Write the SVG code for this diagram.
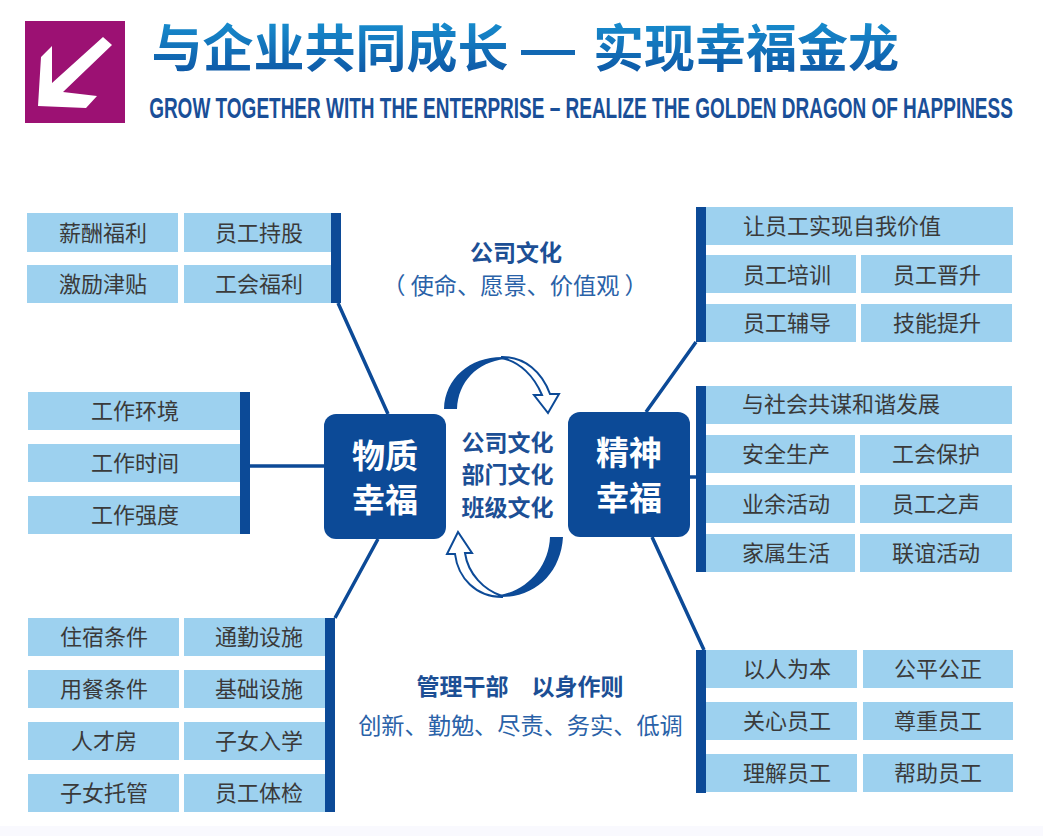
<svg xmlns="http://www.w3.org/2000/svg" width="1043" height="836" viewBox="0 0 1043 836">
<style>
text{font-family:"Noto Sans CJK SC","Noto Sans",sans-serif;text-anchor:middle}
.b{fill:#9dd1ef}
.bar,.hub{fill:#0c4a97}
.t{font-size:22px;fill:#3a3a3a}
.hubt{font-size:33px;font-weight:700;fill:#fff}
.c{font-size:23px;font-weight:700;fill:#1c4f95}
.s{font-size:23.2px;fill:#2a62a8}
.h{font-size:23px;font-weight:700;fill:#1c4f95}
.title{font-size:51px;font-weight:700;fill:url(#g)}
.line{stroke:#0c4a97;stroke-width:3.5;fill:none}
.arc{fill:#0c4a97}
.head{fill:#fff;stroke:#0c4a97;stroke-width:2}
</style>
<defs>
<linearGradient id="g" x1="0" y1="0" x2="0" y2="1"><stop offset="0" stop-color="#1a9ad8"/><stop offset="1" stop-color="#0c4f9f"/></linearGradient>
</defs>
<rect width="1043" height="836" fill="#fff"/>
<rect y="826" width="1043" height="10" fill="#f9f9fe"/>
<g id="header">
<rect x="25" y="21" width="100" height="102" fill="#9c1173"/>
<polygon points="103,37 112,45 63,92 97,96 86,108 38,106 41,57 52,46 52,83" fill="#fff"/>
<text class="title" x="330" y="67">与企业共同成长</text>
<text class="title" x="746" y="67">实现幸福金龙</text>
<rect x="521" y="50" width="54" height="5" fill="#1268b3"/>
<text transform="translate(581,118) scale(0.63,1)" x="0" y="0" font-size="29" font-weight="700" fill="#1a4f98" style="font-family:'Liberation Sans',sans-serif" textLength="1371" lengthAdjust="spacingAndGlyphs">GROW TOGETHER WITH THE ENTERPRISE – REALIZE THE GOLDEN DRAGON OF HAPPINESS</text>
</g>
<g id="connectors">
<path class="line" d="M338 303L388 414M250 466H324M378 539L335 618M696 342L646 412M690 477H696M652 537L704 650"/>
</g>
<g id="cycle">
<path class="head" d="M502 357C525 357 542 372 550 394L559 394L548 413L534 395L542 395C534 376 520 362 502 358Z"/>
<path class="arc" d="M444 409C445 378 470 357 502 357L505 359C477 362 458 382 457 409Z"/>
<path class="head" d="M502 597C476 597 458 578 455 554L447 554L458 532L472 553L465 553C468 574 484 590 502 596Z"/>
<path class="arc" d="M563 537C561 572 536 597 502 597L500 595C528 590 549 566 550 537Z"/>
</g>
<g id="hub-left"><rect class="hub" x="324" y="414" width="122" height="125" rx="12"/><text class="hubt" x="385" y="468">物质</text><text class="hubt" x="385" y="512">幸福</text></g>
<g id="hub-right"><rect class="hub" x="568" y="412" width="122" height="125" rx="12"/><text class="hubt" x="629" y="465">精神</text><text class="hubt" x="629" y="510">幸福</text></g>
<g id="center-label"><text class="c" x="507.5" y="451">公司文化</text><text class="c" x="507.5" y="483">部门文化</text><text class="c" x="507.5" y="516">班级文化</text></g>
<g id="note-top"><text class="h" x="516" y="261">公司文化</text><text class="s" x="515" y="294">（ 使命、愿景、价值观 ）</text></g>
<g id="note-bottom"><text class="h" x="520" y="695">管理干部　以身作则</text><text class="s" x="520.5" y="734">创新、勤勉、尽责、务实、低调</text></g>
<g id="group-lt">
<rect class="b" x="27" y="213" width="151" height="39"/><text class="t" x="103" y="241">薪酬福利</text>
<rect class="b" x="184" y="213" width="148" height="39"/><text class="t" x="259" y="241">员工持股</text>
<rect class="b" x="27" y="265" width="151" height="38"/><text class="t" x="103" y="292">激励津贴</text>
<rect class="b" x="184" y="265" width="148" height="38"/><text class="t" x="259" y="292">工会福利</text>
<rect class="bar" x="331" y="213" width="10" height="90"/>
</g>
<g id="group-lm">
<rect class="b" x="28" y="392" width="212" height="38"/><text class="t" x="135" y="419">工作环境</text>
<rect class="b" x="28" y="444" width="212" height="38"/><text class="t" x="135" y="471">工作时间</text>
<rect class="b" x="28" y="496" width="212" height="38"/><text class="t" x="135" y="523">工作强度</text>
<rect class="bar" x="240" y="392" width="10" height="142"/>
</g>
<g id="group-lb">
<rect class="b" x="28" y="618" width="151" height="38"/><text class="t" x="104" y="645">住宿条件</text>
<rect class="b" x="184" y="618" width="142" height="38"/><text class="t" x="259" y="645">通勤设施</text>
<rect class="b" x="28" y="670" width="151" height="38"/><text class="t" x="104" y="697">用餐条件</text>
<rect class="b" x="184" y="670" width="142" height="38"/><text class="t" x="259" y="697">基础设施</text>
<rect class="b" x="28" y="722" width="151" height="38"/><text class="t" x="104" y="749">人才房</text>
<rect class="b" x="184" y="722" width="142" height="38"/><text class="t" x="259" y="749">子女入学</text>
<rect class="b" x="28" y="774" width="151" height="38"/><text class="t" x="104" y="801">子女托管</text>
<rect class="b" x="184" y="774" width="142" height="38"/><text class="t" x="259" y="801">员工体检</text>
<rect class="bar" x="325" y="618" width="10" height="194"/>
</g>
<g id="group-rt">
<rect class="bar" x="696" y="207" width="10" height="135"/>
<rect class="b" x="706" y="207" width="307" height="38"/><text class="t" x="842" y="234">让员工实现自我价值</text>
<rect class="b" x="706" y="255" width="150" height="38"/><text class="t" x="787" y="283">员工培训</text>
<rect class="b" x="861" y="255" width="151" height="38"/><text class="t" x="937" y="283">员工晋升</text>
<rect class="b" x="706" y="304" width="150" height="38"/><text class="t" x="787" y="331">员工辅导</text>
<rect class="b" x="861" y="304" width="151" height="38"/><text class="t" x="937" y="331">技能提升</text>
</g>
<g id="group-rm">
<rect class="bar" x="696" y="386" width="10" height="186"/>
<rect class="b" x="706" y="386" width="306" height="38"/><text class="t" x="841" y="412">与社会共谋和谐发展</text>
<rect class="b" x="706" y="435" width="149" height="38"/><text class="t" x="786" y="462">安全生产</text>
<rect class="b" x="860" y="435" width="152" height="38"/><text class="t" x="936" y="462">工会保护</text>
<rect class="b" x="706" y="485" width="149" height="38"/><text class="t" x="786" y="512">业余活动</text>
<rect class="b" x="860" y="485" width="152" height="38"/><text class="t" x="936" y="512">员工之声</text>
<rect class="b" x="706" y="534" width="149" height="38"/><text class="t" x="786" y="561">家属生活</text>
<rect class="b" x="860" y="534" width="152" height="38"/><text class="t" x="936" y="561">联谊活动</text>
</g>
<g id="group-rb">
<rect class="bar" x="696" y="650" width="10" height="143"/>
<rect class="b" x="706" y="650" width="151" height="38"/><text class="t" x="787" y="677">以人为本</text>
<rect class="b" x="863" y="650" width="150" height="38"/><text class="t" x="938" y="677">公平公正</text>
<rect class="b" x="706" y="702" width="151" height="38"/><text class="t" x="787" y="729">关心员工</text>
<rect class="b" x="863" y="702" width="150" height="38"/><text class="t" x="938" y="729">尊重员工</text>
<rect class="b" x="706" y="754" width="151" height="38"/><text class="t" x="787" y="781">理解员工</text>
<rect class="b" x="863" y="754" width="150" height="38"/><text class="t" x="938" y="781">帮助员工</text>
</g>
</svg>
